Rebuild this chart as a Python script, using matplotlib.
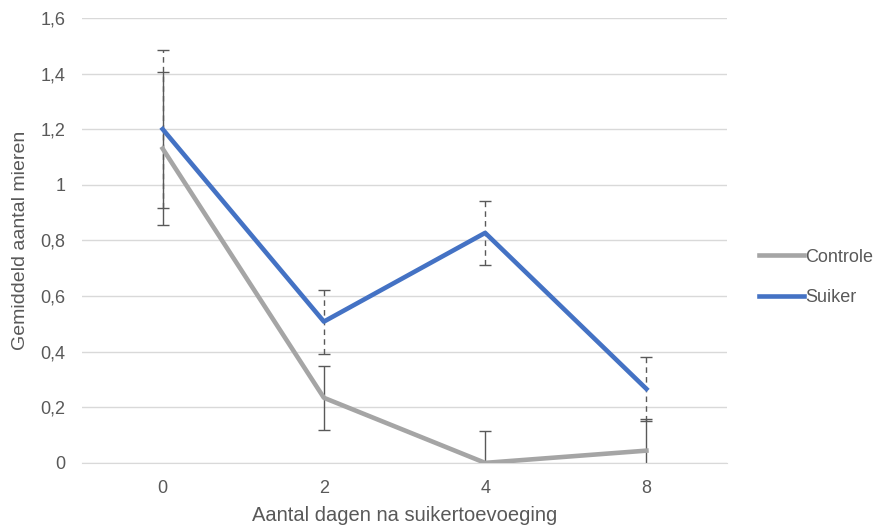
import matplotlib
matplotlib.use("Agg")
import matplotlib.pyplot as plt
from matplotlib.ticker import FuncFormatter
import numpy as np

plt.rcParams['font.family'] = ['Liberation Sans', 'DejaVu Sans']

categories = ["0", "2", "4", "8"]
controle = [1.13, 0.234, 0.0, 0.044]
controle_err = [0.275, 0.115, 0.115, 0.114]
suiker = [1.20, 0.508, 0.827, 0.266]
suiker_err = [0.283, 0.115, 0.114, 0.115]

text_col = "#595959"
grid_col = "#D9D9D9"
gray = "#A5A5A5"
blue = "#4472C4"
err_col = "#595959"

fig = plt.figure(figsize=(8.77, 5.26), dpi=100)
ax = fig.add_axes([0.0935, 0.120, 0.7355, 0.846])

x = np.arange(len(categories))

eb1 = ax.errorbar(x, controle, yerr=controle_err, fmt='none', ecolor=err_col,
                  elinewidth=1.0, capsize=4, capthick=1.0, zorder=2)
eb2 = ax.errorbar(x, suiker, yerr=suiker_err, fmt='none', ecolor=err_col,
                  elinewidth=1.0, capsize=4, capthick=1.0, zorder=2)
for lc in eb2[2]:
    lc.set_linestyle((0, (4, 3)))

ax.plot(x, controle, color=gray, lw=3.3, label="Controle", zorder=3,
        solid_joinstyle='round')
ax.plot(x, suiker, color=blue, lw=3.3, label="Suiker", zorder=3,
        solid_joinstyle='round')

ax.set_xlim(-0.5, len(categories) - 0.5)
ax.set_ylim(0, 1.6)
ax.set_yticks(np.arange(0, 1.61, 0.2))
ax.yaxis.set_major_formatter(FuncFormatter(lambda v, p: f"{v:.1f}".rstrip('0').rstrip('.').replace('.', ',') if v != 0 else "0"))
ax.set_xticks(x)
ax.set_xticklabels(categories)

ax.grid(axis='y', color=grid_col, lw=1)
ax.set_axisbelow(True)
for s in ['top', 'right', 'left']:
    ax.spines[s].set_visible(False)
ax.spines['bottom'].set_color(grid_col)
ax.tick_params(axis='both', length=0, colors=text_col, labelsize=13)
ax.tick_params(axis='y', pad=12)
ax.tick_params(axis='x', pad=12)

ax.set_xlabel("Aantal dagen na suikertoevoeging", color=text_col, fontsize=14.5, labelpad=7)
ax.set_ylabel("Gemiddeld aantal mieren", color=text_col, fontsize=14, labelpad=8)

leg = ax.legend(loc='center left', bbox_to_anchor=(1.025, 0.417), frameon=False,
                fontsize=13, handlelength=2.45, handletextpad=0.1,
                labelspacing=1.3, labelcolor=text_col)

fig.savefig("out.png", dpi=100)
